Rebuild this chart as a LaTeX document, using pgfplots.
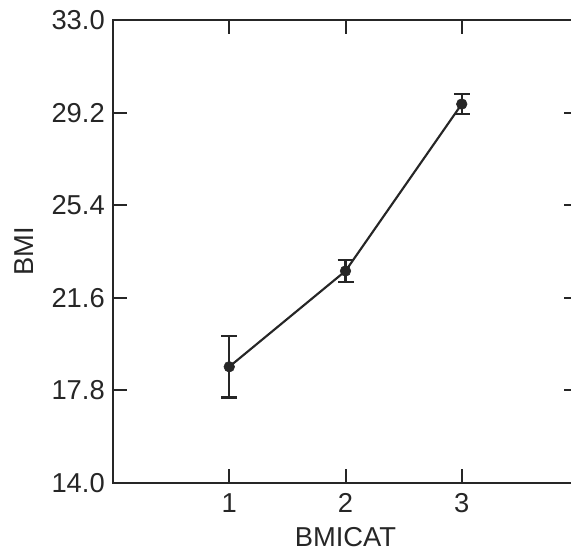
\documentclass[border=0pt]{standalone}
\usepackage{pgfplots}
\pgfplotsset{compat=1.18}
\usepackage{fontspec}
\setmainfont{Liberation Sans}
\begin{document}
\begin{tikzpicture}
\begin{axis}[
  scale only axis,
  width=348.75pt, height=347.25pt,
  xmin=0, xmax=4, ymin=14, ymax=33,
  xtick={1,2,3},
  ytick={14,17.8,21.6,25.4,29.2,33},
  tick align=inside,
  major tick length=10.5pt,
  axis line style={line width=1.7pt, black!85},
  every tick/.style={line width=1.5pt, black!85},
  /pgf/number format/assume math mode=true,
  yticklabel style={/pgf/number format/fixed, /pgf/number format/fixed zerofill,
    /pgf/number format/precision=1, anchor=east, inner sep=0pt, xshift=-6pt},
  xticklabel style={anchor=base, inner sep=0pt, yshift=-22.3pt},
  tick label style={font=\fontsize{20.5}{24}\selectfont, text=black!85},
  xlabel={BMICAT}, ylabel={BMI},
  label style={font=\fontsize{20.5}{24}\selectfont, text=black!85},
  xlabel style={at={(axis description cs:0.5,-0.1382)}, anchor=base},
  ylabel style={at={(axis description cs:-0.1914,0.5)}, anchor=center},
]
% mean BMI per category with error bars
\addplot[black!85, line width=1.6pt, mark=*, mark size=4pt,
  mark options={solid, line width=0.4pt},
  error bars/.cd, y dir=both, y explicit,
  error bar style={line width=1.6pt},
  error mark options={rotate=90, mark size=6pt, line width=1.6pt}]
  coordinates {
    (1,18.77) +- (0,1.26)
    (2,22.70) +- (0,0.44)
    (3,29.55) +- (0,0.41)
  };
\coordinate (ll) at (rel axis cs:0,0);
\end{axis}
\pgfresetboundingbox
\useasboundingbox ([shift={(-84.75pt,-54pt)}]ll) rectangle ([shift={(343.5pt,362.25pt)}]ll);
\end{tikzpicture}
\end{document}
